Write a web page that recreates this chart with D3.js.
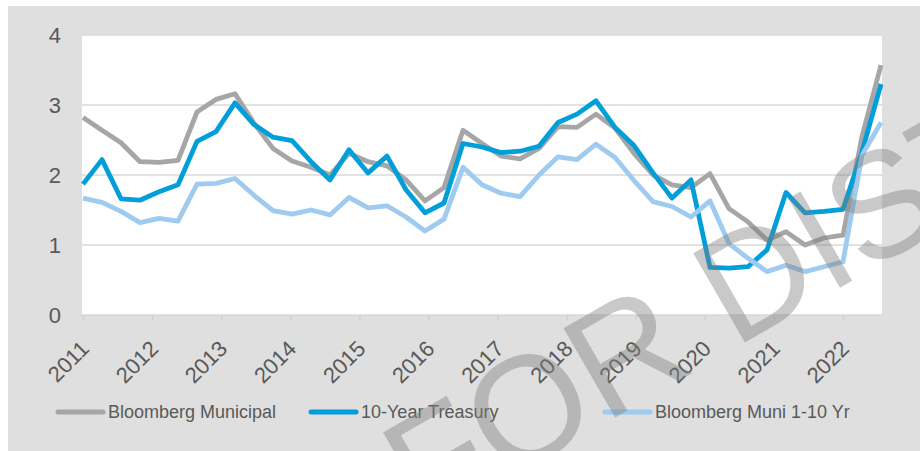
<!DOCTYPE html>
<html>
<head>
<meta charset="utf-8">
<script src="https://cdnjs.cloudflare.com/ajax/libs/d3/7.8.5/d3.min.js"></script>
<style>
  body { margin: 0; background: #fff; }
  text { font-family: "Liberation Sans", Arial, sans-serif; fill: #595959; }
</style>
</head>
<body>
<div id="chart"></div>
<script>
var svgWidth = 920;
var svgHeight = 451;

// quarterly yields, 2011 -> mid 2022
var muni = [2.82, 2.64, 2.46, 2.19, 2.18, 2.21, 2.90, 3.08, 3.16, 2.74,
  2.38, 2.20, 2.11, 2.00, 2.31, 2.19, 2.13, 1.93, 1.63, 1.82,
  2.64, 2.45, 2.27, 2.23, 2.38, 2.69, 2.68, 2.87, 2.67, 2.31,
  2.00, 1.86, 1.82, 2.02, 1.52, 1.33, 1.07, 1.19, 1.00, 1.10,
  1.14, 2.55, 3.57];
var treasury = [1.87, 2.22, 1.66, 1.64, 1.76, 1.86, 2.48, 2.62, 3.03, 2.72,
  2.54, 2.49, 2.19, 1.93, 2.36, 2.03, 2.27, 1.79, 1.46, 1.60,
  2.45, 2.40, 2.32, 2.34, 2.41, 2.75, 2.87, 3.06, 2.68, 2.42,
  2.03, 1.67, 1.93, 0.68, 0.67, 0.69, 0.93, 1.75, 1.46, 1.48,
  1.51, 2.33, 3.30];
var muni110 = [1.67, 1.61, 1.48, 1.32, 1.38, 1.34, 1.87, 1.88, 1.95, 1.71,
  1.49, 1.44, 1.50, 1.43, 1.68, 1.53, 1.56, 1.40, 1.20, 1.37,
  2.11, 1.86, 1.74, 1.69, 2.00, 2.26, 2.22, 2.44, 2.25, 1.92,
  1.62, 1.55, 1.40, 1.63, 1.02, 0.81, 0.62, 0.71, 0.62, 0.69,
  0.76, 2.28, 2.75];

var yearLabels = [2011, 2012, 2013, 2014, 2015, 2016, 2017, 2018, 2019, 2020, 2021, 2022];
var yTicks = [0, 1, 2, 3, 4];

var seriesNames = ["Bloomberg Municipal", "10-Year Treasury", "Bloomberg Muni 1-10 Yr"];
var seriesColors = ["#a6a6a6", "#009fda", "#9ecbef"];
var seriesData = [muni, treasury, muni110];

var plot = { left: 82, right: 882, top: 35, bottom: 315 };

var svg = d3.select("#chart")
  .append("svg")
  .attr("width", svgWidth)
  .attr("height", svgHeight);

// grey frame and white plot area
svg.append("rect")
  .attr("x", 8).attr("y", 6)
  .attr("width", svgWidth - 8).attr("height", svgHeight - 6)
  .attr("fill", "#dedfde");

svg.append("rect")
  .attr("x", plot.left).attr("y", plot.top)
  .attr("width", plot.right - plot.left).attr("height", plot.bottom - plot.top)
  .attr("fill", "#fff");

// scales
var xScale = d3.scaleLinear()
  .domain([0, muni.length - 1])
  .range([plot.left + 1, plot.right - 1]);

var yScale = d3.scaleLinear()
  .domain([0, 4])
  .range([plot.bottom, plot.top]);

// gridlines
svg.append("g")
  .selectAll("line")
  .data(yTicks)
  .enter()
  .append("line")
  .attr("x1", plot.left).attr("x2", plot.right)
  .attr("y1", d => yScale(d)).attr("y2", d => yScale(d))
  .attr("stroke", "#d9d9d9")
  .attr("stroke-width", 1.5);

// y axis labels
var yAxis = d3.axisLeft(yScale).tickValues(yTicks).tickFormat(d3.format("d")).tickSize(0).tickPadding(21);
var yG = svg.append("g")
  .attr("transform", `translate(${plot.left}, 0)`)
  .call(yAxis);
yG.select(".domain").remove();
yG.selectAll("text")
  .style("font-size", "22px")
  .attr("fill", "#595959");

// x axis: year ticks sit every 40/11 quarters
var xAxis = d3.axisBottom(d3.scaleLinear().domain([2011, 2022]).range([xScale(0), xScale(40)]))
  .tickValues(yearLabels)
  .tickFormat(d3.format("d"))
  .tickSize(5);
var xG = svg.append("g")
  .attr("transform", `translate(0, ${plot.bottom})`)
  .call(xAxis);
xG.select(".domain").remove();
xG.selectAll(".tick line").attr("stroke", "#d0d0d0").attr("stroke-width", 1.5);
xG.selectAll("text")
  .attr("fill", "#595959")
  .style("font-size", "22px")
  .attr("text-anchor", "end")
  .attr("y", 0)
  .attr("dy", 0)
  .attr("transform", "translate(7, 35) rotate(-45)");

// lines
var line = d3.line()
  .x((d, i) => xScale(i))
  .y(d => yScale(d));

svg.append("g")
  .selectAll("path")
  .data(seriesData)
  .enter()
  .append("path")
  .attr("d", line)
  .attr("fill", "none")
  .attr("stroke", (d, i) => seriesColors[i])
  .attr("stroke-width", 4.8)
  .attr("stroke-linejoin", "round");

// legend
var legendX = [56, 309, 603];
var legend = svg.append("g")
  .selectAll("g")
  .data(seriesNames)
  .enter()
  .append("g")
  .attr("transform", (d, i) => `translate(${legendX[i]}, 412)`);

legend.append("line")
  .attr("x1", 2).attr("x2", 47)
  .attr("stroke", (d, i) => seriesColors[i])
  .attr("stroke-width", 5)
  .attr("stroke-linecap", "round");

legend.append("text")
  .attr("x", 52)
  .attr("dy", "0.35em")
  .style("font-size", "18px")
  .text(d => d);

// watermark
var wm = svg.append("g")
  .attr("transform", "translate(424, 528) rotate(-30)")
  .attr("opacity", 0.42);
wm.append("text")
  .attr("text-anchor", "end")
  .style("font-size", "150px")
  .style("fill", "#7f7f7f")
  .text("NOT\u00a0");
wm.append("text")
  .style("font-size", "150px")
  .style("fill", "#7f7f7f")
  .text("FOR DISTRIBUTION");
</script>
</body>
</html>
